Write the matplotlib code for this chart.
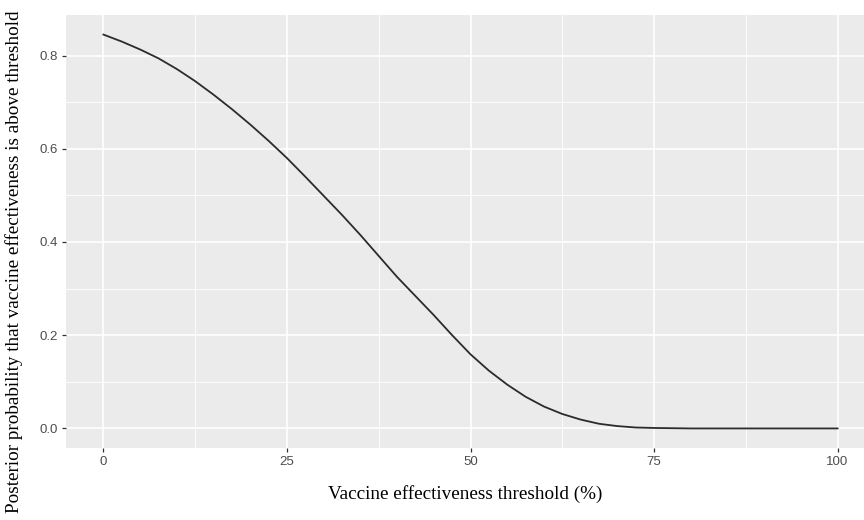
import matplotlib

matplotlib.use("Agg")
import matplotlib.pyplot as plt  # noqa: E402

# values
threshold = [0, 2.5, 5, 7.5, 10, 12.5, 15, 17.5, 20, 22.5, 25, 27.5, 30,
             32.5, 35, 37.5, 40, 42.5, 45, 47.5, 50, 52.5, 55, 57.5, 60,
             62.5, 65, 67.5, 70, 72.5, 75, 80, 85, 90, 95, 100]
prob = [0.845, 0.830, 0.813, 0.794, 0.771, 0.745, 0.716, 0.685, 0.652,
        0.617, 0.580, 0.540, 0.499, 0.458, 0.415, 0.370, 0.325, 0.284,
        0.243, 0.200, 0.159, 0.124, 0.094, 0.068, 0.047, 0.031, 0.019,
        0.010, 0.005, 0.002, 0.001, 0.0, 0.0, 0.0, 0.0, 0.0]

x_ticks = [0, 25, 50, 75, 100]
x_minor = [12.5, 37.5, 62.5, 87.5]
y_ticks = [0.0, 0.2, 0.4, 0.6, 0.8]
y_minor = [0.1, 0.3, 0.5, 0.7]

TICK_GREY = "#4D4D4D"

fig = plt.figure(figsize=(8.64, 5.2), dpi=100)
ax = fig.add_axes([66 / 864, 72 / 520, 1 - 66 / 864, 433 / 520])
ax.set_facecolor("#EBEBEB")
for s in ax.spines.values():
    s.set_visible(False)

ax.set_xticks(x_ticks)
ax.set_xticks(x_minor, minor=True)
ax.set_yticks(y_ticks)
ax.set_yticks(y_minor, minor=True)
ax.set_yticklabels([f"{v:.1f}" for v in y_ticks])
ax.grid(which="major", color="white", linewidth=1.2)
ax.grid(which="minor", color="white", linewidth=0.6)
ax.set_axisbelow(True)
ax.tick_params(which="major", length=3, width=0.9, color="#333333",
               labelcolor=TICK_GREY, labelsize=9.5, pad=3)
ax.tick_params(which="minor", length=0)
for lab in ax.get_xticklabels() + ax.get_yticklabels():
    lab.set_family(["Liberation Sans", "DejaVu Sans"])

ax.plot(threshold, prob, color="#2b2b2b", linewidth=1.3)

ax.set_xlim(-5.1, 103.6)
ax.set_ylim(-0.042, 0.887)

serif = ["Liberation Serif", "DejaVu Serif"]
ax.set_xlabel("Vaccine effectiveness threshold (%)", family=serif,
              fontsize=13.8, color="black", labelpad=12)
fig.text(14 / 864, 1 - 262 / 520,
         "Posterior probability that vaccine effectiveness is above threshold",
         family=serif, fontsize=13.8, color="black", rotation=90,
         ha="center", va="center")

fig.savefig("out.png", dpi=100)
